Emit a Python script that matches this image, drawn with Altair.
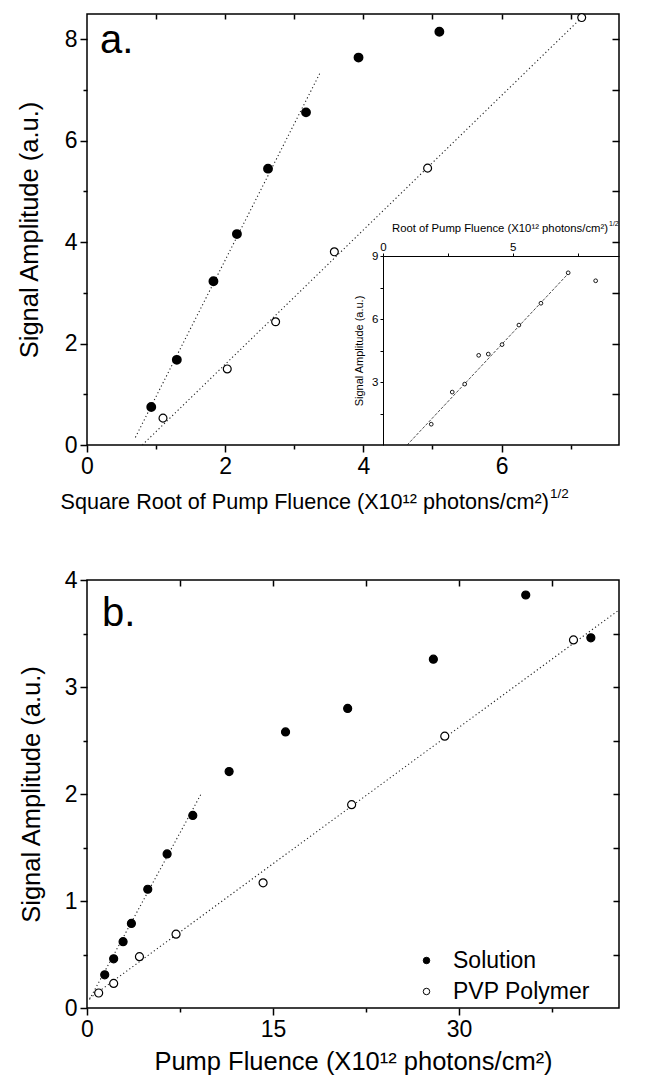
import altair as alt
import pandas as pd

# ---------------- data ----------------
series_names = ["Solution", "PVP Polymer"]

# panel a : square root of pump fluence
a_sol_x = [0.93, 1.30, 1.83, 2.17, 2.62, 3.17, 3.93, 5.10]
a_sol_y = [0.75, 1.68, 3.23, 4.16, 5.45, 6.56, 7.64, 8.15]
a_pvp_x = [1.10, 2.03, 2.73, 3.58, 4.93, 7.16]
a_pvp_y = [0.53, 1.50, 2.43, 3.81, 5.46, 8.43]
a_fit_sol_x = [0.70, 3.37]
a_fit_sol_y = [0.15, 7.33]
a_fit_pvp_x = [0.80, 7.16]
a_fit_pvp_y = [0.00, 8.43]

# inset of panel a
inset_x = [1.86, 2.67, 3.15, 3.69, 4.06, 4.59, 5.24, 6.09, 7.14, 8.20]
inset_y = [0.99, 2.52, 2.90, 4.27, 4.33, 4.78, 5.71, 6.75, 8.20, 7.82]
inset_fit_x = [0.93, 7.15]
inset_fit_y = [0.00, 8.17]

# panel b : pump fluence
b_sol_x = [1.43, 2.15, 2.91, 3.58, 4.90, 6.46, 8.53, 11.46, 16.01, 21.02, 27.93, 35.38, 40.63]
b_sol_y = [0.31, 0.46, 0.62, 0.79, 1.11, 1.44, 1.80, 2.21, 2.58, 2.80, 3.26, 3.86, 3.46]
b_pvp_x = [0.94, 2.15, 4.23, 7.18, 14.20, 21.34, 28.85, 39.23]
b_pvp_y = [0.14, 0.23, 0.48, 0.69, 1.17, 1.90, 2.54, 3.44]
b_fit_sol_x = [0.20, 9.20]
b_fit_sol_y = [0.08, 2.00]
b_fit_pvp_x = [0.20, 42.9]
b_fit_pvp_y = [0.09, 3.72]

# tick values (major = labelled, minor = short ticks)
a_x_major = [0, 2, 4, 6]
a_x_minor = [1, 3, 5, 7]
a_y_major = [0, 2, 4, 6, 8]
a_y_minor = [1, 3, 5, 7]
a_x_mirror = [1, 2, 3, 4, 5, 6, 7]
a_y_mirror = [1, 2, 3, 4, 5, 6, 7, 8]
inset_x_ticks = [0, 2.5, 5, 7.5]
inset_y_ticks = [1.5, 3, 4.5, 6, 7.5, 9]
b_x_major = [0, 15, 30]
b_x_minor = [7.5, 22.5, 37.5]
b_y_major = [0, 1, 2, 3, 4]
b_y_minor = [0.5, 1.5, 2.5, 3.5]
b_x_mirror = [7.5, 15, 22.5, 30, 37.5]
b_y_mirror = [0.5, 1, 1.5, 2, 2.5, 3, 3.5]

# ---------------- helpers ----------------
FONT = "Liberation Sans"
W, HA, HB = 532, 431, 428
TICK_F = 23
TITLE_F = 25.5


def frame(xs, ys, s):
    return pd.DataFrame({"x": xs, "y": ys, "series": s})


def text(s, x, y, size, align="left", baseline="alphabetic"):
    return alt.Chart(pd.DataFrame({"t": [s]})).mark_text(
        align=align, baseline=baseline, fontSize=size, font=FONT, color="black"
    ).encode(text="t:N", x=alt.value(x), y=alt.value(y))


def major_axis(orient, values, fmt="d", **kw):
    return alt.Axis(orient=orient, values=values, format=fmt, domain=False, tickSize=7,
                    labelFlush=False, labelOverlap=False, labelFontSize=TICK_F,
                    labelPadding=3, **kw)


def tick_axis(orient, values, size, offset=0):
    return alt.Axis(orient=orient, values=values, labels=False, title=None,
                    domain=False, tickSize=size, offset=offset)


DOTS = dict(color="#222222", strokeWidth=1.1, strokeDash=[1.2, 2.6])

# ---------------- panel a (flat layer, every layer with explicit scales) ----------------
XA = alt.Scale(domain=[0, 7.7], nice=False, zero=False)
YA = alt.Scale(domain=[0, 8.5], nice=False, zero=False)
XI = alt.Scale(domain=[0, 9.1], range=[296, W], nice=False, zero=False)
YI = alt.Scale(domain=[0, 9], range=[HA, 242], nice=False, zero=False)

fit_sol_a = alt.Chart(frame(a_fit_sol_x, a_fit_sol_y, series_names[0])).mark_line(**DOTS).encode(
    x=alt.X("x:Q", scale=XA, axis=tick_axis("bottom", a_x_minor, 4)),
    y=alt.Y("y:Q", scale=YA, axis=tick_axis("left", a_y_minor, 4)))
fit_pvp_a = alt.Chart(frame(a_fit_pvp_x, a_fit_pvp_y, series_names[1])).mark_line(**DOTS).encode(
    x=alt.X("x:Q", scale=XA, axis=tick_axis("top", a_x_mirror, 5, -5)),
    y=alt.Y("y:Q", scale=YA, axis=tick_axis("right", a_y_mirror, 7, -7)))
sol_a = alt.Chart(frame(a_sol_x, a_sol_y, series_names[0])).mark_point(
    shape="circle", filled=True, fill="black", stroke="black", size=62, opacity=1).encode(
    x=alt.X("x:Q", scale=XA, axis=major_axis("bottom", a_x_major, title=None)),
    y=alt.Y("y:Q", scale=YA, axis=major_axis(
        "left", a_y_major, title="Signal Amplitude (a.u.)", titleFontSize=TITLE_F,
        titleX=-58, titleY=HA / 2, titleAngle=270, titleAlign="center",
        titleBaseline="middle")))
pvp_a = alt.Chart(frame(a_pvp_x, a_pvp_y, series_names[1])).mark_point(
    shape="circle", filled=True, fill="white", stroke="black", strokeWidth=1.2,
    size=62, opacity=1).encode(
    x=alt.X("x:Q", scale=XA, axis=None), y=alt.Y("y:Q", scale=YA, axis=None))

axI_top = alt.Axis(orient="top", offset=-242, values=inset_x_ticks, title=None,
                   labelExpr="datum.value % 5 == 0 ? datum.label : ''",
                   tickSize=3, tickWidth=1, domainWidth=1, domainColor="black",
                   labelFontSize=11.5, labelPadding=1, labelFlush=False, labelOverlap=False)
axI_left = alt.Axis(orient="left", offset=-296, values=inset_y_ticks, format="d",
                    labelExpr="datum.value % 3 == 0 ? datum.label : ''",
                    tickSize=3, tickWidth=1, domainWidth=1, domainColor="black",
                    labelFontSize=11.5, labelPadding=2, labelFlush=False, labelOverlap=False,
                    title="Signal Amplitude (a.u.)", titleFontSize=11, titlePadding=7)

inset_fit = alt.Chart(frame(inset_fit_x, inset_fit_y, "fit")).mark_line(
    color="#222222", strokeWidth=0.8, strokeDash=[3, 1.5]).encode(
    x=alt.X("x:Q", scale=XI, axis=None), y=alt.Y("y:Q", scale=YI, axis=None))
inset_pts = alt.Chart(frame(inset_x, inset_y, series_names[1])).mark_point(
    shape="circle", filled=True, fill="white", stroke="black", strokeWidth=0.9,
    size=14, opacity=1).encode(
    x=alt.X("x:Q", scale=XI, axis=axI_top), y=alt.Y("y:Q", scale=YI, axis=axI_left))

panel_a = alt.layer(
    fit_sol_a, fit_pvp_a, sol_a, pvp_a, inset_fit, inset_pts,
    text("a.", 13, 39, 40),
    text("Square Root of Pump Fluence (X10¹² photons/cm²)", 462, 495, 21.6, align="right"),
    text("1/2", 463, 484, 13.5),
    text("Root of Pump Fluence (X10¹² photons/cm²)", 521, 218, 11.3, align="right"),
    text("1/2", 522, 212, 7),
).resolve_scale(x="independent", y="independent").properties(width=W, height=HA)

# ---------------- panel b ----------------
XB = alt.Scale(domain=[0, 42.9], nice=False, zero=False)
YB = alt.Scale(domain=[0, 4], nice=False, zero=False)

fit_sol_b = alt.Chart(frame(b_fit_sol_x, b_fit_sol_y, series_names[0])).mark_line(**DOTS).encode(
    x=alt.X("x:Q", scale=XB, axis=tick_axis("bottom", b_x_minor, 4)),
    y=alt.Y("y:Q", scale=YB, axis=tick_axis("left", b_y_minor, 4)))
fit_pvp_b = alt.Chart(frame(b_fit_pvp_x, b_fit_pvp_y, series_names[1])).mark_line(**DOTS).encode(
    x=alt.X("x:Q", scale=XB, axis=tick_axis("top", b_x_mirror, 6, -6)),
    y=alt.Y("y:Q", scale=YB, axis=tick_axis("right", b_y_mirror, 6, -6)))
pts_b = alt.Chart(pd.concat([frame(b_sol_x, b_sol_y, series_names[0]),
                             frame(b_pvp_x, b_pvp_y, series_names[1])])).mark_point(
    shape="circle", filled=True, stroke="black", strokeWidth=1.2, size=64, opacity=1).encode(
    x=alt.X("x:Q", scale=XB, axis=major_axis(
        "bottom", b_x_major, title="Pump Fluence (X10¹² photons/cm²)",
        titleFontSize=TITLE_F, titlePadding=8)),
    y=alt.Y("y:Q", scale=YB, axis=major_axis(
        "left", b_y_major, title="Signal Amplitude  (a.u.)", titleFontSize=TITLE_F,
        titleX=-56, titleY=HB / 2, titleAngle=270, titleAlign="center",
        titleBaseline="middle")),
    fill=alt.Fill("series:N", scale=alt.Scale(domain=series_names, range=["black", "white"]),
                  legend=alt.Legend(title=None, orient="none", legendX=328, legendY=369,
                                    labelFontSize=TICK_F, labelFont=FONT, labelColor="black",
                                    symbolType="circle", symbolSize=42,
                                    symbolStrokeColor="black", symbolStrokeWidth=1,
                                    rowPadding=7, labelOffset=15, padding=0)))

panel_b = alt.layer(fit_sol_b, fit_pvp_b, pts_b, text("b.", 15, 46, 40)).resolve_axis(
    x="independent", y="independent").properties(width=W, height=HB)

chart = alt.vconcat(panel_a, panel_b, spacing=135, bounds="flush").resolve_scale(
    fill="independent"
).properties(
    padding={"left": 8, "top": 2, "right": 0, "bottom": 0}
).configure_view(stroke="black", strokeWidth=1.5).configure_axis(
    labelFont=FONT, titleFont=FONT, labelColor="black", titleColor="black",
    tickColor="black", domainColor="black", tickWidth=1.5, grid=False,
    titleFontWeight="normal"
)

chart.save("out.html", embed_options={"renderer": "svg", "actions": False})
